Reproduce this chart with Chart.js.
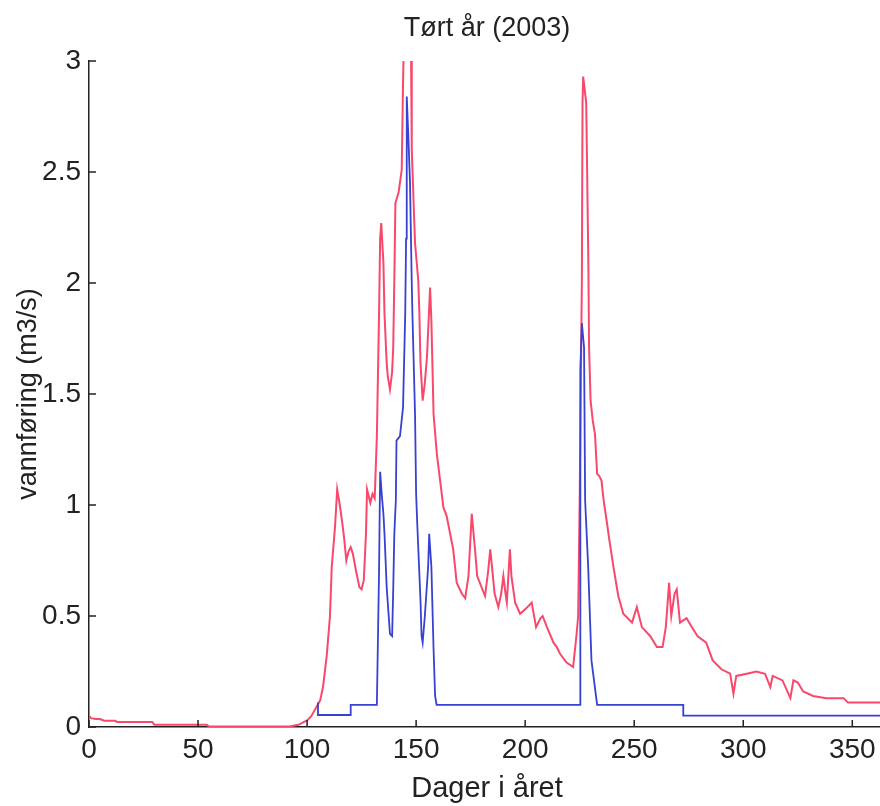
<!DOCTYPE html>
<html>
<head>
<meta charset="utf-8">
<script src="https://cdn.jsdelivr.net/npm/chart.js@4"></script>
<style>
  html, body { margin: 0; padding: 0; overflow: hidden; background: #fff; }
</style>
</head>
<body>
<canvas id="myChart" width="885" height="806"></canvas>
<script>
Chart.defaults.font.family = '"Liberation Sans", Arial, sans-serif';
Chart.defaults.color = '#222';

// inflow (red)
const redDays = [0, 1, 3, 5, 7, 12, 13, 29, 30, 54, 55, 92, 96, 100, 102, 104, 106, 107.3, 109, 110.5,
  111.3, 112.8, 113.8, 115, 116, 117, 118, 119, 120, 121, 122.5, 124, 125, 126, 127, 127.5, 129, 130, 131, 132,
  133, 133.5, 134, 135, 135.5, 136.5, 137, 138, 139, 139.5, 140, 140.5, 142, 143.4, 144, 145, 146.5, 147.7, 148, 149.5,
  151, 151.5, 152, 153, 154, 155, 156.4, 157, 158, 159.5, 161, 162.5, 164, 167, 168.6, 171, 172.5, 174, 175.5, 177,
  178, 181.6, 183, 184, 185, 186, 187.7, 189, 190, 191, 191.6, 193, 193.7, 195.4, 197.7, 200, 203, 205, 207, 208,
  210, 213, 214.5, 216, 219, 222, 223.6, 224.3, 225, 226, 226.3, 226.6, 228, 229, 229.3, 230, 231, 232, 233, 234,
  235, 236, 237.5, 238.5, 240.5, 242.7, 245, 249, 251.2, 253.5, 257.3, 260.4, 263, 264.5, 266, 267, 268.5, 269.5, 271, 274,
  276.4, 279, 283, 286, 290, 294, 295.5, 296.8, 301.6, 306, 310, 312.4, 313.5, 318, 321.6, 323, 325, 327.5, 332, 338,
  346, 348, 365];
const redFlow = [0.05, 0.04, 0.036, 0.036, 0.028, 0.028, 0.022, 0.022, 0.01, 0.01, 0.002, 0.002, 0.01, 0.03, 0.05, 0.085, 0.12, 0.18, 0.32, 0.5,
  0.72, 0.9, 1.07, 1.0, 0.93, 0.85, 0.75, 0.79, 0.81, 0.78, 0.7, 0.63, 0.62, 0.66, 0.87, 1.07, 1.01, 1.05, 1.03, 1.31,
  1.86, 2.2, 2.27, 2.09, 1.86, 1.64, 1.58, 1.52, 1.6, 1.71, 2.01, 2.36, 2.41, 2.51, 2.9, 3.4, 3.4, 3.0, 2.6, 2.18,
  2.01, 1.86, 1.64, 1.47, 1.55, 1.67, 1.98, 1.83, 1.41, 1.23, 1.11, 0.99, 0.95, 0.8, 0.65, 0.6, 0.58, 0.68, 0.96, 0.8,
  0.68, 0.59, 0.7, 0.8, 0.7, 0.6, 0.54, 0.6, 0.68, 0.6, 0.56, 0.8, 0.68, 0.56, 0.51, 0.53, 0.56, 0.45, 0.49, 0.5,
  0.45, 0.38, 0.36, 0.33, 0.29, 0.27, 0.42, 0.5, 1.02, 2.01, 2.81, 2.93, 2.81, 2.07, 1.71, 1.47, 1.38, 1.32, 1.14, 1.13,
  1.11, 1.02, 0.92, 0.85, 0.72, 0.59, 0.51, 0.47, 0.54, 0.45, 0.41, 0.36, 0.36, 0.45, 0.65, 0.5, 0.6, 0.62, 0.47, 0.49,
  0.45, 0.41, 0.38, 0.3, 0.26, 0.24, 0.15, 0.23, 0.24, 0.25, 0.24, 0.18, 0.23, 0.21, 0.13, 0.21, 0.2, 0.16, 0.14, 0.13,
  0.13, 0.11, 0.11];

// released flow (blue), stepped
const blueDays = [105, 105, 120, 120, 132, 133, 133.5, 134.3, 135, 135.5, 136.5, 138, 139, 139.5, 140, 140.7, 141, 142.6, 144, 145,
  145.4, 145.7, 146.4, 147.2, 148, 148.3, 149.5, 150, 150.5, 152, 152.5, 153, 154, 155.5, 156, 157, 158, 158.7, 159.4, 225.2,
  225.3, 226, 227, 227.5, 228.9, 230.4, 233, 272.5, 272.5, 365];
const blueFlow = [0.11, 0.054, 0.054, 0.1, 0.1, 0.7, 1.15, 1.04, 0.96, 0.87, 0.63, 0.42, 0.41, 0.62, 0.87, 1.02, 1.29, 1.31, 1.44, 1.86,
  2.2, 2.84, 2.67, 2.45, 2.0, 1.86, 1.41, 1.05, 0.92, 0.57, 0.41, 0.38, 0.5, 0.72, 0.87, 0.72, 0.35, 0.14, 0.1, 0.1,
  1.61, 1.82, 1.71, 1.02, 0.72, 0.3, 0.1, 0.1, 0.051, 0.051];

const xTicks = [0, 50, 100, 150, 200, 250, 300, 350];
const yTicks = [0, 0.5, 1, 1.5, 2, 2.5, 3];

const toPoints = (xs, ys) => xs.map((x, i) => ({ x: x, y: ys[i] }));

// matlab style ticks pointing into the plot
const innerTicks = {
  id: 'innerTicks',
  afterDraw(chart) {
    const ctx = chart.ctx, a = chart.chartArea;
    const xs = chart.scales.x, ys = chart.scales.y;
    ctx.save();
    ctx.strokeStyle = '#222';
    ctx.lineWidth = 1.5;
    ctx.beginPath();
    xTicks.forEach(v => {
      const px = xs.getPixelForValue(v);
      ctx.moveTo(px, a.bottom);
      ctx.lineTo(px, a.bottom - 7);
    });
    yTicks.forEach(v => {
      const py = ys.getPixelForValue(v);
      ctx.moveTo(a.left, py);
      ctx.lineTo(a.left + 7, py);
    });
    ctx.stroke();
    ctx.restore();
  }
};

const config = {
  type: 'line',
  data: {
    datasets: [{
      label: 'regulert',
      data: toPoints(blueDays, blueFlow),
      borderColor: 'rgb(55, 65, 210)',
      borderWidth: 1.8,
      pointRadius: 0,
      tension: 0
    },
    {
      label: 'tilsig',
      data: toPoints(redDays, redFlow),
      borderColor: 'rgb(248, 72, 108)',
      borderWidth: 2,
      pointRadius: 0,
      tension: 0
    }]
  },
  options: {
    responsive: false,
    animation: false,
    layout: { padding: 0 },
    plugins: {
      legend: { display: false },
      tooltip: { enabled: false }
    },
    scales: {
      // top axis only carries the chart title, centred over the plot
      top: {
        type: 'linear',
        position: 'top',
        min: 0,
        max: 365,
        afterFit: s => { s.height = 61; },
        ticks: { display: false },
        grid: { display: false, drawTicks: false },
        border: { display: false },
        title: {
          display: true,
          text: 'Tørt år (2003)',
          color: '#222',
          font: { size: 27 },
          padding: { top: 12, bottom: 0 }
        }
      },
      x: {
        type: 'linear',
        min: 0,
        max: 365,
        afterBuildTicks: s => { s.ticks = xTicks.map(v => ({ value: v })); },
        afterFit: s => { s.height = 79; },
        ticks: { font: { size: 28 }, padding: 6, maxRotation: 0 },
        grid: { drawOnChartArea: false, drawTicks: false },
        border: { display: true, color: '#222', width: 1.5 },
        title: {
          display: true,
          text: 'Dager i året',
          font: { size: 29 },
          padding: { top: 0, bottom: 0 }
        }
      },
      y: {
        min: 0,
        max: 3,
        afterBuildTicks: s => { s.ticks = yTicks.map(v => ({ value: v })); },
        afterFit: s => { s.width = 89; },
        ticks: { font: { size: 28 }, padding: 8, callback: v => String(v) },
        grid: { drawOnChartArea: false, drawTicks: false },
        border: { display: true, color: '#222', width: 1.5 },
        title: {
          display: true,
          text: 'vannføring (m3/s)',
          font: { size: 27 },
          padding: { top: 12, bottom: 0 }
        }
      }
    }
  },
  plugins: [innerTicks]
};

const myChart = new Chart(document.getElementById('myChart'), config);
</script>
</body>
</html>
